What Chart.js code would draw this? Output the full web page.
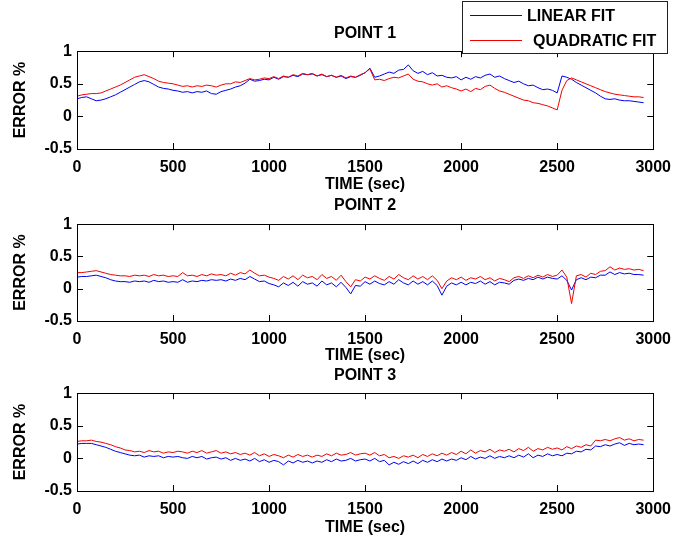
<!doctype html>
<html>
<head>
<meta charset="utf-8">
<title>Error %</title>
<script src="https://cdn.jsdelivr.net/npm/chart.js"></script>
<style>
    body { margin: 0; background: #fff; }
    .panel { position: absolute; left: 0; width: 680px; }
</style>
</head>
<body>
<div class="panel" style="top:0px;height:195px"><canvas id="point1"></canvas></div>
<div class="panel" style="top:195px;height:170px"><canvas id="point2"></canvas></div>
<div class="panel" style="top:365px;height:175px"><canvas id="point3"></canvas></div>

<script>
// time axis (sec)
const TIME = [0,25,50,75,100,125,150,175,200,225,250,275,300,325,350,375,400,425,450,475,
    500,525,550,575,600,625,650,675,700,725,750,775,800,825,850,875,900,925,950,975,
    1000,1025,1050,1075,1100,1125,1150,1175,1200,1225,1250,1275,1300,1325,1350,1375,1400,1425,1450,1475,
    1500,1525,1550,1575,1600,1625,1650,1675,1700,1725,1750,1775,1800,1825,1850,1875,1900,1925,1950,1975,
    2000,2025,2050,2075,2100,2125,2150,2175,2200,2225,2250,2275,2300,2325,2350,2375,2400,2425,2450,2475,
    2500,2525,2550,2575,2600,2625,2650,2675,2700,2725,2750,2775,2800,2825,2850,2875,2900,2925,2950]

const SERIES_NAMES = ['LINEAR FIT', 'QUADRATIC FIT']
const PANEL_TITLES = ['POINT 1', 'POINT 2', 'POINT 3']
const X_TICKS = [0, 500, 1000, 1500, 2000, 2500, 3000]
const Y_TICKS = [-0.5, 0, 0.5, 1]

// POINT 1
const linear1 = [0.27,0.29,0.30,0.27,0.24,0.25,0.27,0.30,0.33,0.37,
    0.41,0.45,0.49,0.53,0.55,0.53,0.49,0.45,0.43,0.42,
    0.40,0.39,0.37,0.38,0.36,0.38,0.37,0.39,0.35,0.34,
    0.38,0.40,0.42,0.45,0.47,0.51,0.57,0.54,0.55,0.57,
    0.56,0.60,0.57,0.61,0.60,0.63,0.61,0.65,0.64,0.65,
    0.62,0.64,0.61,0.63,0.60,0.62,0.58,0.61,0.60,0.63,
    0.67,0.74,0.60,0.62,0.65,0.68,0.66,0.71,0.72,0.79,
    0.70,0.66,0.69,0.64,0.67,0.62,0.63,0.60,0.59,0.61,
    0.56,0.60,0.57,0.61,0.59,0.63,0.65,0.60,0.62,0.58,
    0.55,0.52,0.54,0.50,0.47,0.48,0.44,0.41,0.42,0.40,
    0.36,0.62,0.60,0.57,0.52,0.48,0.44,0.40,0.36,0.31,
    0.27,0.26,0.27,0.25,0.24,0.24,0.23,0.22,0.21]
const quadratic1 = [0.31,0.33,0.34,0.35,0.35,0.36,0.39,0.42,0.45,0.48,
    0.52,0.56,0.60,0.62,0.64,0.61,0.58,0.54,0.52,0.51,
    0.50,0.48,0.46,0.47,0.45,0.47,0.46,0.48,0.47,0.45,
    0.48,0.50,0.50,0.53,0.52,0.55,0.58,0.56,0.57,0.59,
    0.58,0.61,0.58,0.62,0.60,0.64,0.62,0.66,0.64,0.66,
    0.62,0.65,0.61,0.63,0.60,0.63,0.59,0.62,0.60,0.64,
    0.67,0.73,0.56,0.57,0.55,0.58,0.60,0.59,0.62,0.65,
    0.57,0.54,0.53,0.50,0.48,0.50,0.45,0.47,0.44,0.42,
    0.39,0.42,0.38,0.43,0.41,0.46,0.48,0.43,0.39,0.37,
    0.34,0.31,0.28,0.25,0.24,0.21,0.20,0.18,0.16,0.13,
    0.10,0.40,0.55,0.59,0.56,0.53,0.50,0.47,0.44,0.41,
    0.38,0.36,0.34,0.33,0.32,0.31,0.30,0.30,0.29]

// POINT 2
const linear2 = [0.18,0.19,0.19,0.20,0.21,0.19,0.17,0.14,0.12,0.11,
    0.11,0.10,0.12,0.11,0.12,0.10,0.13,0.11,0.12,0.10,
    0.11,0.10,0.14,0.10,0.12,0.11,0.13,0.12,0.14,0.13,
    0.14,0.12,0.15,0.13,0.16,0.14,0.19,0.15,0.11,0.12,
    0.08,0.06,0.03,0.09,0.05,0.10,0.04,0.11,0.07,0.09,
    0.04,0.12,0.06,0.09,0.03,0.10,0.02,-0.08,0.05,0.04,
    0.11,0.07,0.12,0.08,0.06,0.11,0.07,0.14,0.09,0.06,
    0.12,0.07,0.11,0.06,0.12,0.05,-0.10,0.04,0.09,0.06,
    0.10,0.06,0.10,0.08,0.12,0.07,0.11,0.06,0.10,0.09,
    0.07,0.13,0.15,0.13,0.16,0.14,0.18,0.15,0.18,0.16,
    0.15,0.20,0.13,-0.02,0.14,0.17,0.14,0.18,0.17,0.21,
    0.21,0.26,0.22,0.25,0.23,0.24,0.22,0.22,0.21]
const quadratic2 = [0.25,0.25,0.26,0.27,0.28,0.26,0.24,0.22,0.21,0.20,
    0.20,0.19,0.21,0.20,0.21,0.19,0.22,0.20,0.21,0.19,
    0.20,0.19,0.25,0.20,0.21,0.19,0.22,0.20,0.23,0.21,
    0.22,0.20,0.24,0.21,0.25,0.23,0.29,0.24,0.20,0.21,
    0.18,0.16,0.13,0.19,0.15,0.20,0.14,0.21,0.17,0.19,
    0.14,0.22,0.16,0.19,0.13,0.21,0.11,0.03,0.14,0.12,
    0.18,0.15,0.20,0.16,0.13,0.19,0.15,0.22,0.17,0.14,
    0.20,0.15,0.19,0.14,0.20,0.13,0.00,0.12,0.17,0.14,
    0.18,0.13,0.17,0.15,0.19,0.14,0.17,0.12,0.16,0.14,
    0.11,0.17,0.19,0.16,0.20,0.17,0.21,0.18,0.22,0.19,
    0.21,0.29,0.18,-0.23,0.20,0.22,0.18,0.24,0.22,0.27,
    0.28,0.34,0.29,0.32,0.30,0.31,0.29,0.30,0.28]

// POINT 3
const linear3 = [0.22,0.23,0.23,0.23,0.21,0.19,0.17,0.14,0.11,0.09,
    0.07,0.05,0.04,0.05,0.02,0.04,0.03,0.04,0.01,0.03,
    0.02,0.03,0.01,0.00,0.03,0.01,0.03,-0.01,0.01,0.02,
    -0.01,0.01,-0.03,0.00,-0.03,-0.01,-0.04,0.00,-0.05,-0.02,
    -0.06,-0.03,-0.05,-0.10,-0.04,-0.07,-0.03,-0.06,-0.04,-0.07,
    -0.04,-0.06,-0.02,-0.05,-0.01,-0.04,-0.03,0.00,-0.04,-0.02,
    -0.01,-0.04,0.00,-0.05,-0.03,-0.10,-0.06,-0.09,-0.05,-0.08,
    -0.04,-0.08,-0.03,-0.06,-0.02,-0.05,-0.01,-0.04,-0.01,-0.03,
    0.01,-0.02,0.03,-0.01,0.02,0.00,0.04,0.00,0.03,0.01,
    0.04,0.01,0.05,0.02,0.07,0.01,0.05,0.03,0.07,0.04,
    0.06,0.04,0.08,0.07,0.11,0.10,0.14,0.13,0.19,0.18,
    0.21,0.19,0.22,0.24,0.20,0.23,0.21,0.22,0.21]
const quadratic3 = [0.26,0.27,0.27,0.28,0.26,0.25,0.23,0.21,0.18,0.16,
    0.13,0.12,0.10,0.11,0.09,0.12,0.10,0.11,0.08,0.10,
    0.09,0.11,0.10,0.08,0.11,0.09,0.12,0.08,0.10,0.12,
    0.08,0.10,0.07,0.09,0.06,0.08,0.05,0.09,0.04,0.07,
    0.03,0.06,0.04,0.01,0.05,0.02,0.06,0.03,0.05,0.02,
    0.05,0.03,0.07,0.04,0.08,0.05,0.06,0.09,0.05,0.07,
    0.08,0.05,0.09,0.04,0.06,0.01,0.03,0.00,0.04,0.02,
    0.05,0.01,0.06,0.03,0.07,0.04,0.08,0.05,0.09,0.06,
    0.11,0.07,0.13,0.08,0.12,0.10,0.14,0.09,0.13,0.11,
    0.14,0.10,0.15,0.12,0.17,0.11,0.15,0.13,0.17,0.14,
    0.16,0.13,0.18,0.15,0.19,0.17,0.21,0.19,0.28,0.27,
    0.29,0.27,0.30,0.32,0.28,0.30,0.27,0.29,0.28]

const FONT = "'Liberation Sans', Arial, Helvetica, sans-serif"
Chart.defaults.font.family = FONT
Chart.defaults.font.size = 16
Chart.defaults.font.weight = 'bold'
Chart.defaults.color = '#000'

// matlab style axes box with inward ticks on all four sides
const axesBox = {
    id: 'axesBox',
    afterDatasetsDraw(chart) {
        const { ctx, chartArea: { left, right, top, bottom }, scales: { x, y } } = chart
        const tick = 6
        ctx.save()
        ctx.strokeStyle = '#000'
        ctx.lineWidth = 1
        ctx.beginPath()
        x.ticks.forEach(t => {
            const px = Math.round(x.getPixelForValue(t.value)) + 0.5
            ctx.moveTo(px, bottom); ctx.lineTo(px, bottom - tick)
            ctx.moveTo(px, top); ctx.lineTo(px, top + tick)
        })
        y.ticks.forEach(t => {
            const py = Math.round(y.getPixelForValue(t.value)) + 0.5
            ctx.moveTo(left, py); ctx.lineTo(left + tick, py)
            ctx.moveTo(right, py); ctx.lineTo(right - tick, py)
        })
        ctx.stroke()
        ctx.strokeRect(Math.round(left) + 0.5, Math.round(top) + 0.5, Math.round(right - left), Math.round(bottom - top))
        ctx.restore()
    }
}

// boxed legend in the top right corner of the figure
const boxedLegend = {
    id: 'boxedLegend',
    afterDraw(chart) {
        const { ctx } = chart
        ctx.save()
        ctx.fillStyle = '#fff'
        ctx.fillRect(462, 1, 205, 52)
        ctx.strokeStyle = '#222'
        ctx.lineWidth = 1
        ctx.strokeRect(462.5, 1.5, 205, 52)
        ctx.font = 'bold 16px ' + FONT
        ctx.textBaseline = 'middle'
        chart.data.datasets.forEach((ds, i) => {
            const yy = 15.5 + i * 25
            ctx.strokeStyle = ds.borderColor
            ctx.beginPath()
            ctx.moveTo(470, yy)
            ctx.lineTo(522, yy)
            ctx.stroke()
            ctx.fillStyle = '#000'
            ctx.fillText(ds.label, 527 + i * 6, yy + 1.5)
        })
        ctx.restore()
    }
}

function toPoints(values) {
    return TIME.map((t, i) => ({ x: t, y: values[i] }))
}

function fmt(v) {
    return String(Math.round(v * 10) / 10)
}

function makePanel(id, title, linear, quadratic, lay, extraPlugins) {
    return new Chart(document.getElementById(id).getContext('2d'), {
        type: 'line',
        data: {
            datasets: [{
                label: SERIES_NAMES[0],
                data: toPoints(linear),
                borderColor: '#0000f0',
                borderWidth: 1,
                pointRadius: 0,
                tension: 0,
                order: 1
            }, {
                label: SERIES_NAMES[1],
                data: toPoints(quadratic),
                borderColor: '#f00000',
                borderWidth: 1,
                pointRadius: 0,
                tension: 0,
                order: 0
            }]
        },
        options: {
            responsive: true,
            maintainAspectRatio: false,
            animation: false,
            devicePixelRatio: 1,
            layout: { padding: { left: 0, right: 21, top: 0, bottom: 0 } },
            plugins: {
                legend: { display: false },
                tooltip: { enabled: false },
                title: {
                    display: true,
                    text: title,
                    fullSize: false,
                    font: { size: 16, weight: 'bold' },
                    padding: { top: lay.titleTop, bottom: lay.titleBottom }
                }
            },
            scales: {
                x: {
                    type: 'linear',
                    min: 0,
                    max: 3000,
                    afterBuildTicks: s => { s.ticks = X_TICKS.map(v => ({ value: v })) },
                    afterFit: s => { s.height = lay.xHeight },
                    grid: { display: false, drawTicks: false },
                    border: { display: false },
                    ticks: { padding: 9, maxRotation: 0, autoSkip: false, callback: v => String(v) },
                    title: { display: true, text: 'TIME (sec)', padding: { top: 0, bottom: lay.xTitleBottom } }
                },
                y: {
                    min: -0.5,
                    max: 1,
                    afterBuildTicks: s => { s.ticks = Y_TICKS.map(v => ({ value: v })) },
                    afterFit: s => { s.width = 77 },
                    grid: { display: false, drawTicks: false },
                    border: { display: false },
                    ticks: { padding: 5, callback: v => fmt(v) },
                    title: { display: true, text: 'ERROR %', padding: { top: 11, bottom: 0 } }
                }
            }
        },
        plugins: [axesBox].concat(extraPlugins || [])
    })
}

makePanel('point1', PANEL_TITLES[0], linear1, quadratic1,
    { titleTop: 24, titleBottom: 8, xHeight: 46, xTitleBottom: 1 }, [boxedLegend])
makePanel('point2', PANEL_TITLES[1], linear2, quadratic2,
    { titleTop: 1, titleBottom: 9, xHeight: 44, xTitleBottom: 0 })
makePanel('point3', PANEL_TITLES[2], linear3, quadratic3,
    { titleTop: 1, titleBottom: 8, xHeight: 49, xTitleBottom: 3 })
</script>
</body>
</html>
